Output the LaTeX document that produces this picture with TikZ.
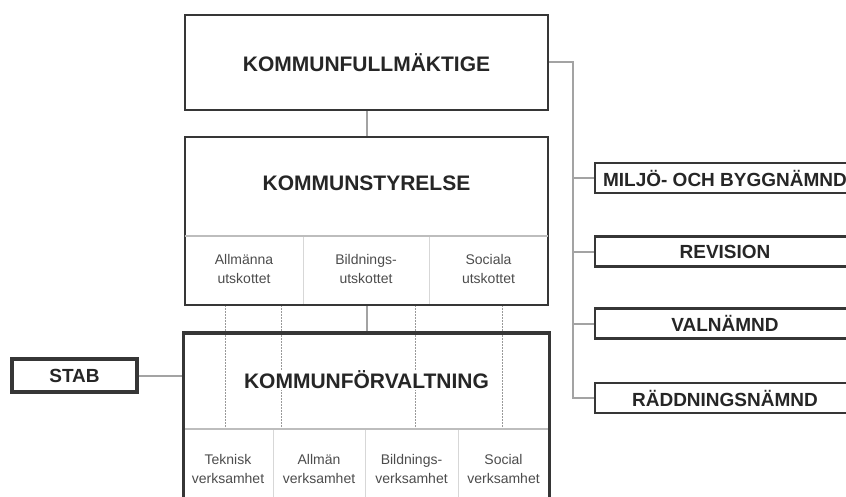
\documentclass[tikz,border=0pt]{standalone}
\usepackage{fontspec}
\setmainfont{Liberation Sans}
\usetikzlibrary{positioning}
\definecolor{boxgray}{HTML}{363636}
\definecolor{linkgray}{HTML}{A3A3A3}
\definecolor{rulegray}{HTML}{BDBDBD}

\begin{document}
\begin{tikzpicture}[x=1pt,y=-1pt,
  frame/.style={draw=boxgray,line width=2.8pt,inner sep=0pt},
  title/.style={fill=white,inner sep=1pt,text=black!85,font=\bfseries\fontsize{21}{24}\selectfont},
  side/.style={draw=boxgray,line width=2.2pt,fill=white,inner sep=0pt,minimum width=260,minimum height=30,
    text=black!85,font=\bfseries\fontsize{19}{21}\selectfont},
  sub/.style={align=center,text=black!70,font=\fontsize{14}{19}\selectfont},
  link/.style={draw=linkgray,line width=2pt},
  rule/.style={draw=rulegray,line width=1.5pt},
  divider/.style={draw=rulegray!60,line width=0.6pt},
  dots/.style={draw=gray!80,line width=0.7pt,dash pattern=on 1.5pt off 1.5pt}]
  \clip (0,0) rectangle (846,497);
  % guide lines behind the boxes
  \foreach \x in {225,281,415,502}
    \draw[dots] (\x,305) -- (\x,429);
  % main boxes
  \node[frame,minimum width=363,minimum height=95] (kf) at (366.5,62.5) {};
  \node[title] (kftitle) at (kf) {KOMMUNFULLMÄKTIGE};
  \node[frame,minimum width=363,minimum height=168] (ks) at (366.5,221) {};
  \node[title] (kstitle) at (366.5,183) {KOMMUNSTYRELSE};
  \node[frame,line width=3.2pt,minimum width=366,minimum height=170] (kv) at (366.5,418) {};
  \node[title] (kvtitle) at (366.5,380) {KOMMUNFÖRVALTNING};
  % inner rules and columns
  \draw[rule] (185,236) -- (548,236);
  \draw[rule] (185,429) -- (548,429);
  \foreach \x in {303,429} \draw[divider] (\x,237) -- (\x,304);
  \foreach \x in {273,365,458} \draw[divider] (\x,430) -- (\x,497);
  \foreach \x/\t in {244/{Allmänna\\utskottet},366/{Bildnings-\\utskottet},488.5/{Sociala\\utskottet}}
    \node[sub] at (\x,269) {\t};
  \foreach \x/\t in {228/Teknisk,319/Allmän,411.5/Bildnings-,503.5/Social}
    \node[sub] at (\x,469) {\t\\verksamhet};
  % side boxes
  \node[side,line width=3.2pt,minimum width=125,minimum height=33] (stab) at (74.5,375.5) {STAB};
  \node[side] (mb) at (725,178) {MILJÖ- OCH BYGGNÄMND};
  \node[side] (rev) at (725,251.5) {REVISION};
  \node[side] (val) at (725,323.5) {VALNÄMND};
  \node[side] (rad) at (725,398) {RÄDDNINGSNÄMND};
  % connectors
  \coordinate (trunk) at (573,62.5);
  \draw[link] (kf.south) -- (ks.north);
  \draw[link] (ks.south) -- (kv.north);
  \draw[link] (stab.east) -- (kv.west |- stab);
  \draw[link] (kf.east) -- (trunk) |- (rad.west);
  \foreach \n in {mb,rev,val}
    \draw[link] (trunk |- \n) -- (\n.west);
\end{tikzpicture}
\end{document}
